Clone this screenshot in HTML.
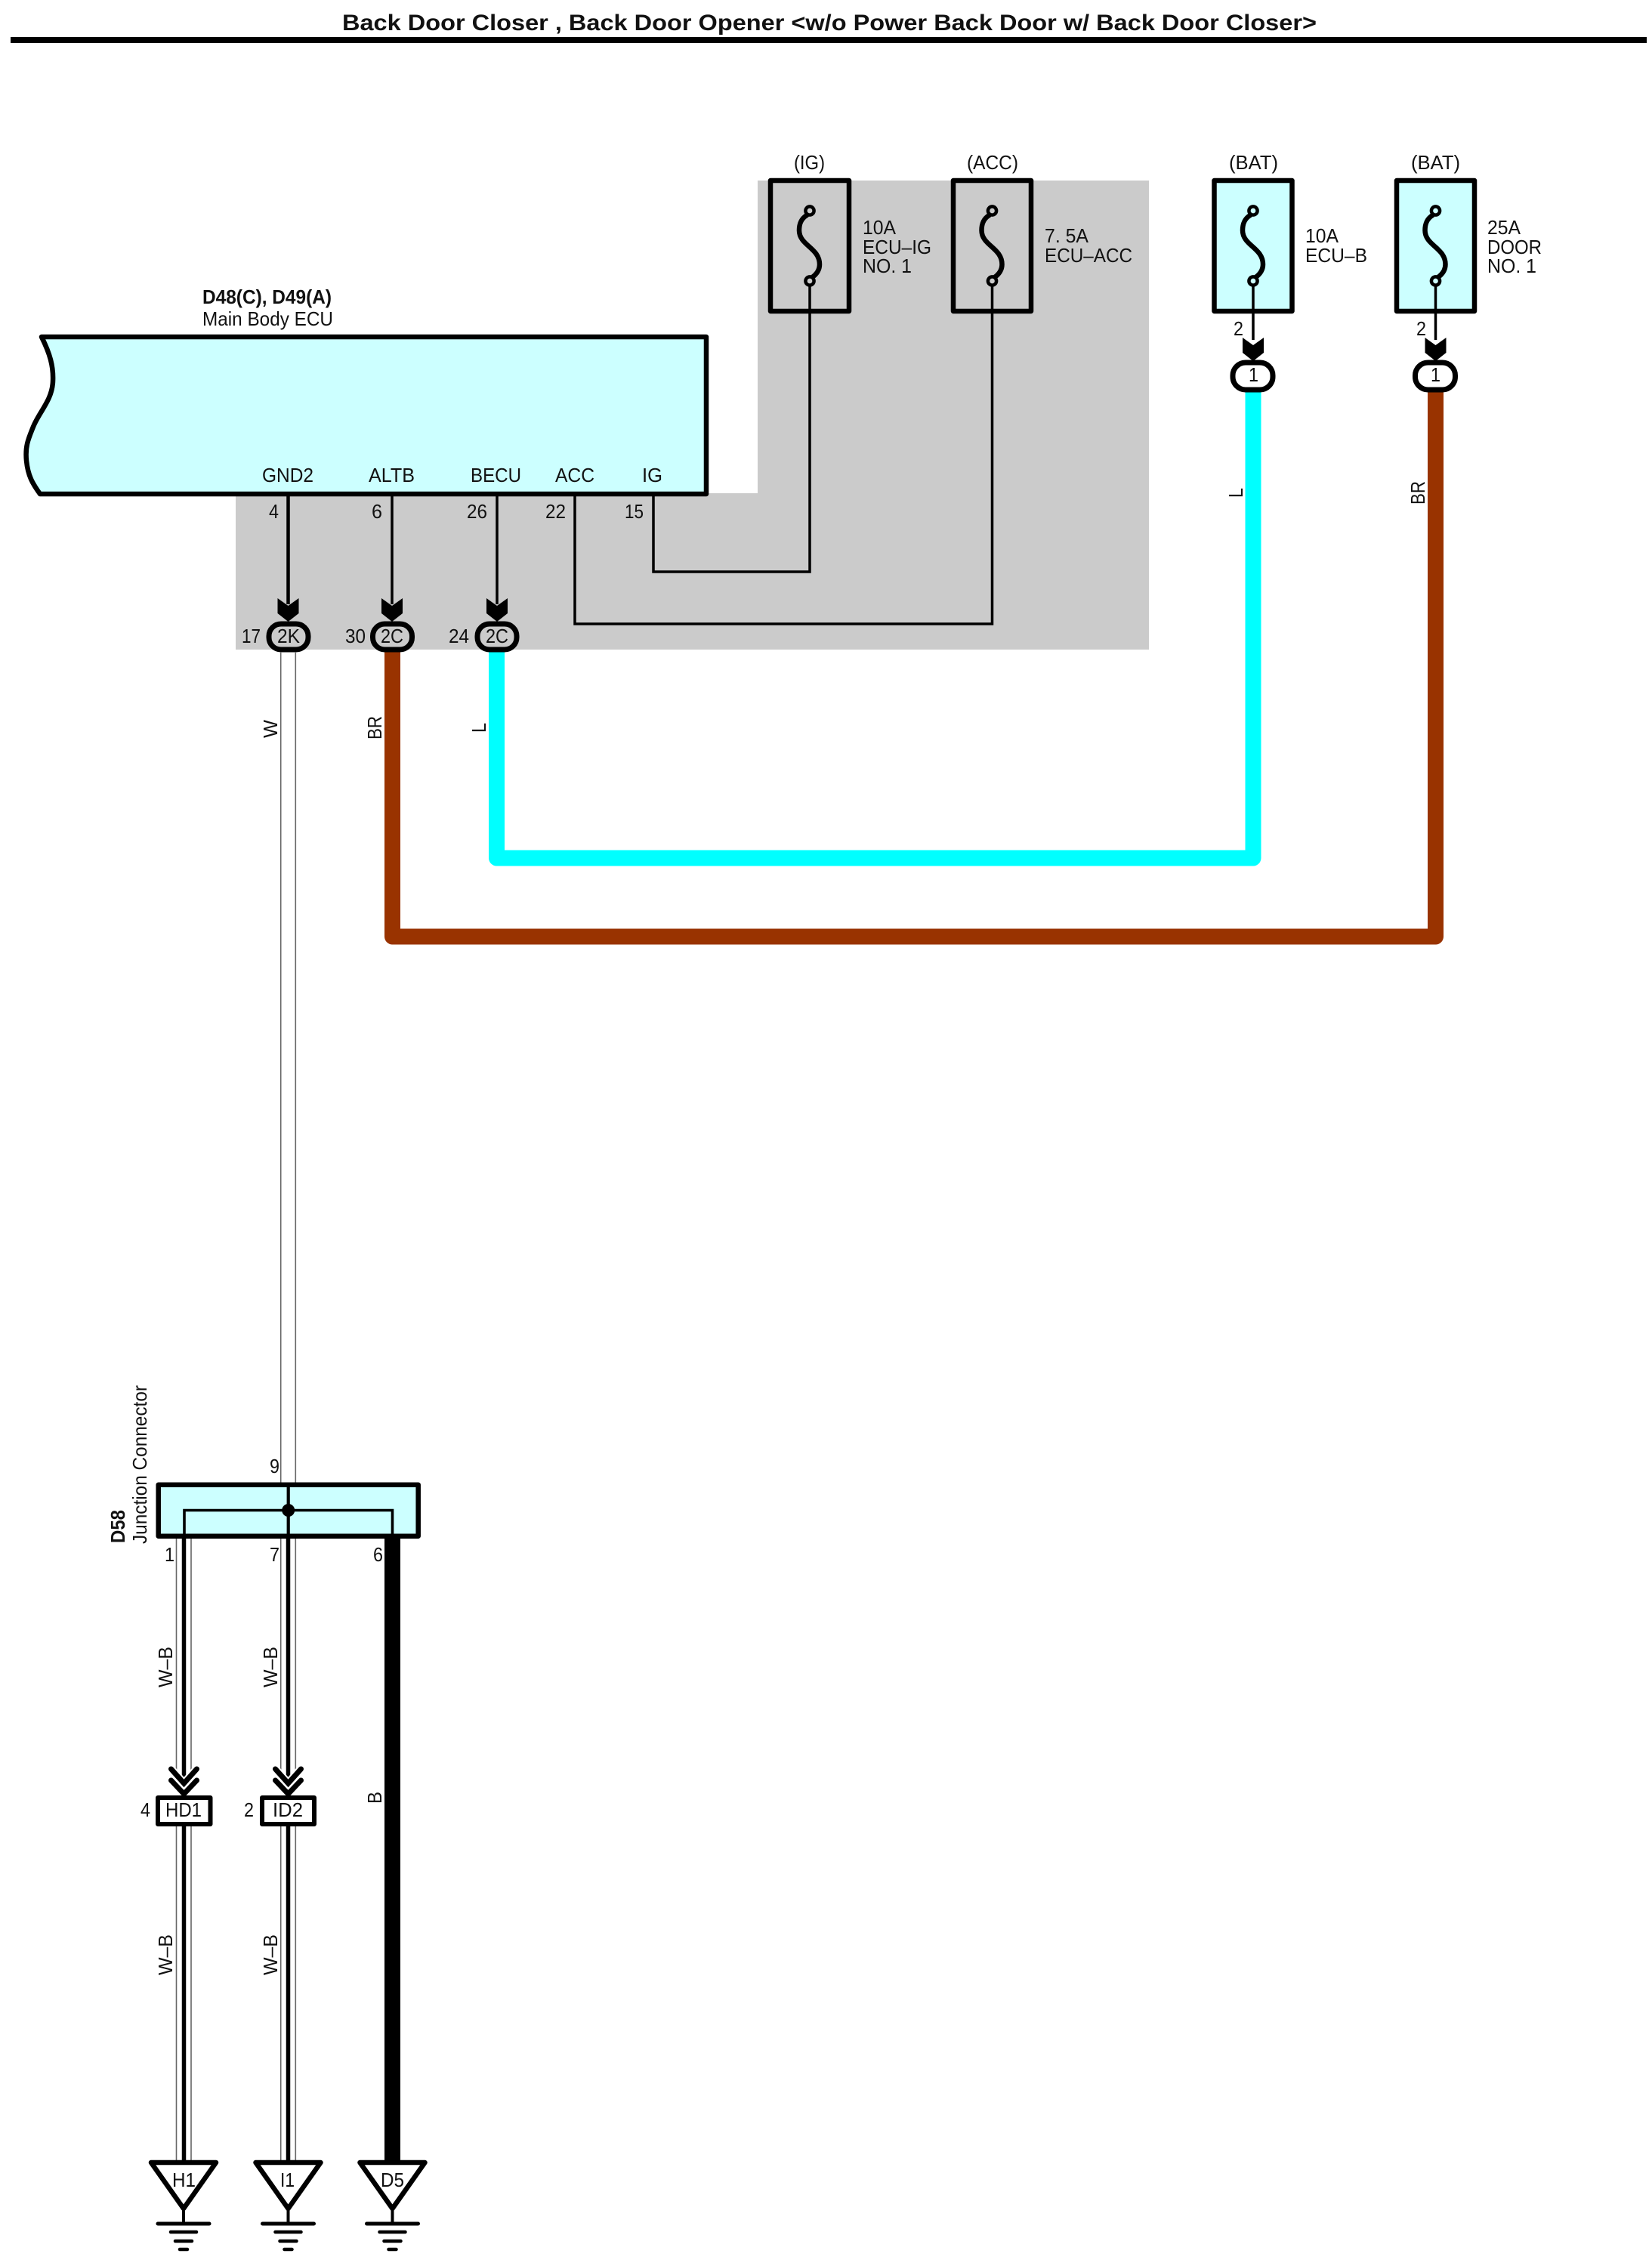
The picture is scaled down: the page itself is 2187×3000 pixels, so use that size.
<!DOCTYPE html>
<html lang="en">
<head>
<meta charset="utf-8">
<title>Back Door Closer, Back Door Opener</title>
<style>
html,body{margin:0;padding:0;background:#fff}
svg{display:block}
text{font-family:"Liberation Sans",Arial,sans-serif;font-size:26px;fill:#111}
.b{font-weight:bold}
</style>
</head>
<body>
<svg xmlns="http://www.w3.org/2000/svg" width="2187" height="3000" viewBox="0 0 2187 3000">
<defs>
<g id="fz" stroke="#000">
<path d="M1068 285C1060 290 1058 297 1058 305C1058 325 1085 328 1085 350C1085 358 1080 364 1074 368" fill="none" stroke-width="6.5" stroke-linecap="round"/>
<circle cx="1072" cy="279" r="5.6" stroke-width="4.5"/>
<circle cx="1072" cy="372" r="5.6" stroke-width="4.5"/>
</g>
<path id="ah" d="M-14-31L0-21L14-31V-11L0 0L-14-11Z" fill="#000"/>
<g id="gnd" fill="none" stroke="#000" stroke-linecap="round">
<path d="M-43 2863H43L0 2924Z" stroke-width="6.5" stroke-linejoin="round"/>
<path d="M0 2924V2944" stroke-width="4"/>
<path d="M-34 2944H34" stroke-width="5"/>
<path d="M-17 2955H17M-11 2967H11M-5 2978H5" stroke-width="4.5"/>
</g>
<g id="chev" fill="none" stroke-linecap="round" stroke-linejoin="miter">
<path d="M-17 2342L0 2361L17 2342" stroke="#fff" stroke-width="11"/>
<path d="M-17 2357L0 2375L17 2357" stroke="#fff" stroke-width="11"/>
<path d="M-17 2342L0 2361L17 2342" stroke="#000" stroke-width="7"/>
<path d="M-17 2357L0 2375L17 2357" stroke="#000" stroke-width="7"/>
</g>
</defs>

<rect width="2187" height="3000" fill="#fff"/>

<!-- title -->
<text class="b" x="453" y="40" style="font-size:30px" textLength="1290" lengthAdjust="spacingAndGlyphs">Back Door Closer , Back Door Opener &lt;w/o Power Back Door w/ Back Door Closer&gt;</text>
<rect x="14" y="49" width="2166" height="8" fill="#000"/>

<!-- grey zone -->
<path d="M1003 239H1521V860H312V653H1003Z" fill="#cbcbcb"/>

<!-- thick wires -->
<path d="M657.5 860V1136H1659V516" fill="none" stroke="#00ffff" stroke-width="21" stroke-linejoin="round"/>
<path d="M519.5 860V1240H1900.5V516" fill="none" stroke="#993300" stroke-width="21" stroke-linejoin="round"/>

<!-- thin wires in grey zone -->
<g fill="none" stroke="#000" stroke-width="3.5">
<path d="M865 654V757H1072V372"/>
<path d="M761 654V826H1313.5V372"/>
<path d="M519 654V800M658 654V800"/>
<path d="M381.5 654V800" stroke-width="4.5"/>
</g>

<!-- ECU -->
<path d="M55 446H935V654H53C43 640 37 630 35 610C33 590 38 580 44 565C52 545 69 530 70 505C71 485 66 468 55 446Z" fill="#ccffff" stroke="#000" stroke-width="6.5" stroke-linejoin="round"/>
<text class="b" x="268" y="402" textLength="171" lengthAdjust="spacingAndGlyphs">D48(C), D49(A)</text>
<text x="268" y="431" textLength="173" lengthAdjust="spacingAndGlyphs">Main Body ECU</text>
<text x="347" y="638" textLength="68" lengthAdjust="spacingAndGlyphs">GND2</text>
<text x="488" y="638" textLength="61" lengthAdjust="spacingAndGlyphs">ALTB</text>
<text x="623" y="638" textLength="67" lengthAdjust="spacingAndGlyphs">BECU</text>
<text x="735" y="638" textLength="52" lengthAdjust="spacingAndGlyphs">ACC</text>
<text x="850" y="638" textLength="27" lengthAdjust="spacingAndGlyphs">IG</text>

<!-- pin numbers under ECU -->
<text x="356" y="686" textLength="13" lengthAdjust="spacingAndGlyphs">4</text>
<text x="492" y="686" textLength="14" lengthAdjust="spacingAndGlyphs">6</text>
<text x="618" y="686" textLength="27" lengthAdjust="spacingAndGlyphs">26</text>
<text x="722" y="686" textLength="27" lengthAdjust="spacingAndGlyphs">22</text>
<text x="827" y="686" textLength="25" lengthAdjust="spacingAndGlyphs">15</text>

<!-- arrowheads + connectors -->
<use href="#ah" x="381.5" y="823"/>
<use href="#ah" x="519" y="823"/>
<use href="#ah" x="658" y="823"/>
<use href="#ah" x="1659" y="478"/>
<use href="#ah" x="1900.5" y="478"/>

<g fill="#cbcbcb" stroke="#000" stroke-width="7">
<rect x="356" y="826" width="52" height="34" rx="16"/>
<rect x="493.5" y="826" width="52" height="34" rx="16"/>
<rect x="632" y="826" width="52" height="34" rx="16"/>
</g>
<g fill="#fff" stroke="#000" stroke-width="7">
<rect x="1632" y="480" width="53" height="36" rx="17"/>
<rect x="1873.5" y="480" width="53" height="36" rx="17"/>
</g>
<text x="367" y="851" textLength="30" lengthAdjust="spacingAndGlyphs">2K</text>
<text x="504" y="851" textLength="30" lengthAdjust="spacingAndGlyphs">2C</text>
<text x="643" y="851" textLength="30" lengthAdjust="spacingAndGlyphs">2C</text>
<text x="320" y="851" textLength="25" lengthAdjust="spacingAndGlyphs">17</text>
<text x="457" y="851" textLength="27" lengthAdjust="spacingAndGlyphs">30</text>
<text x="594" y="851" textLength="27" lengthAdjust="spacingAndGlyphs">24</text>
<text x="1653" y="505" textLength="13" lengthAdjust="spacingAndGlyphs">1</text>
<text x="1894" y="505" textLength="13" lengthAdjust="spacingAndGlyphs">1</text>

<!-- fuses -->
<g stroke="#000" stroke-width="6.5" stroke-linejoin="round">
<rect x="1020" y="239" width="104" height="173" fill="#cbcbcb"/>
<rect x="1262" y="239" width="103" height="173" fill="#cbcbcb"/>
<rect x="1607.5" y="239" width="103" height="173" fill="#ccffff"/>
<rect x="1849" y="239" width="103" height="173" fill="#ccffff"/>
</g>
<path d="M1072 372V412M1313.5 372V412" stroke="#000" stroke-width="3.5"/>
<path d="M1659 372V450M1900.5 372V450" stroke="#000" stroke-width="3.5"/>
<use href="#fz" fill="#cbcbcb"/>
<use href="#fz" x="241.5" fill="#cbcbcb"/>
<use href="#fz" x="587" fill="#ccffff"/>
<use href="#fz" x="828.5" fill="#ccffff"/>
<text x="1051" y="224" textLength="41" lengthAdjust="spacingAndGlyphs">(IG)</text>
<text x="1280" y="224" textLength="68" lengthAdjust="spacingAndGlyphs">(ACC)</text>
<text x="1627" y="224" textLength="65" lengthAdjust="spacingAndGlyphs">(BAT)</text>
<text x="1868" y="224" textLength="65" lengthAdjust="spacingAndGlyphs">(BAT)</text>

<text x="1142" y="310" textLength="44" lengthAdjust="spacingAndGlyphs">10A</text>
<text x="1142" y="336" textLength="91" lengthAdjust="spacingAndGlyphs">ECU–IG</text>
<text x="1142" y="361" textLength="65" lengthAdjust="spacingAndGlyphs">NO. 1</text>
<text x="1383" y="321" textLength="58" lengthAdjust="spacingAndGlyphs">7. 5A</text>
<text x="1383" y="347" textLength="116" lengthAdjust="spacingAndGlyphs">ECU–ACC</text>
<text x="1728" y="321" textLength="44" lengthAdjust="spacingAndGlyphs">10A</text>
<text x="1728" y="347" textLength="82" lengthAdjust="spacingAndGlyphs">ECU–B</text>
<text x="1969" y="310" textLength="44" lengthAdjust="spacingAndGlyphs">25A</text>
<text x="1969" y="336" textLength="72" lengthAdjust="spacingAndGlyphs">DOOR</text>
<text x="1969" y="361" textLength="65" lengthAdjust="spacingAndGlyphs">NO. 1</text>
<text x="1633" y="444" textLength="13" lengthAdjust="spacingAndGlyphs">2</text>
<text x="1875" y="444" textLength="13" lengthAdjust="spacingAndGlyphs">2</text>

<!-- vertical wire labels -->
<text transform="translate(367 977) rotate(-90)" textLength="24" lengthAdjust="spacingAndGlyphs">W</text>
<text transform="translate(505 979) rotate(-90)" textLength="31" lengthAdjust="spacingAndGlyphs">BR</text>
<text transform="translate(643 970) rotate(-90)" textLength="13" lengthAdjust="spacingAndGlyphs">L</text>
<text transform="translate(1645 659) rotate(-90)" textLength="13" lengthAdjust="spacingAndGlyphs">L</text>
<text transform="translate(1886 668) rotate(-90)" textLength="31" lengthAdjust="spacingAndGlyphs">BR</text>

<!-- white wire ECU → D58 -->
<path d="M371.7 863V1963M391.3 863V1963" stroke="#666" stroke-width="1.6"/>

<!-- wires below D58 -->
<path d="M233.5 2036V2345M253 2036V2345M233.5 2416V2860M253 2416V2860M371.7 2036V2345M391.3 2036V2345M371.7 2416V2860M391.3 2416V2860" stroke="#666" stroke-width="1.6"/>
<path d="M243.5 2036V2362M243.5 2416V2862M381.5 2036V2362M381.5 2416V2862" stroke="#000" stroke-width="5.5"/>
<rect x="509" y="2034" width="21" height="830" fill="#000"/>

<!-- D58 -->
<rect x="209.7" y="1965.7" width="344" height="68" fill="#ccffff" stroke="#000" stroke-width="6.5" stroke-linejoin="round"/>
<path d="M244 2034V1999.5H519.5V2034" fill="none" stroke="#000" stroke-width="3.6"/>
<path d="M381.7 1966V2036" stroke="#000" stroke-width="4.2"/>
<circle cx="381.7" cy="1999.5" r="8.5" fill="#000"/>
<text class="b" transform="translate(165 2043) rotate(-90)" textLength="44" lengthAdjust="spacingAndGlyphs">D58</text>
<text transform="translate(194 2044) rotate(-90)" textLength="210" lengthAdjust="spacingAndGlyphs">Junction Connector</text>
<text x="357" y="1950" textLength="13" lengthAdjust="spacingAndGlyphs">9</text>
<text x="218" y="2067" textLength="13" lengthAdjust="spacingAndGlyphs">1</text>
<text x="357" y="2067" textLength="13" lengthAdjust="spacingAndGlyphs">7</text>
<text x="494" y="2067" textLength="13" lengthAdjust="spacingAndGlyphs">6</text>

<text transform="translate(228 2234) rotate(-90)" textLength="54" lengthAdjust="spacingAndGlyphs">W–B</text>
<text transform="translate(367 2234) rotate(-90)" textLength="54" lengthAdjust="spacingAndGlyphs">W–B</text>
<text transform="translate(228 2615) rotate(-90)" textLength="54" lengthAdjust="spacingAndGlyphs">W–B</text>
<text transform="translate(367 2615) rotate(-90)" textLength="54" lengthAdjust="spacingAndGlyphs">W–B</text>
<text transform="translate(505 2388) rotate(-90)" textLength="16" lengthAdjust="spacingAndGlyphs">B</text>

<!-- chevrons -->
<use href="#chev" x="243.5"/>
<use href="#chev" x="381.5"/>

<!-- HD1 / ID2 -->
<g fill="#fff" stroke="#000" stroke-width="6" stroke-linejoin="round">
<rect x="209" y="2380" width="69.5" height="35"/>
<rect x="347" y="2380" width="69" height="35"/>
</g>
<text x="219" y="2405" textLength="48" lengthAdjust="spacingAndGlyphs">HD1</text>
<text x="361" y="2405" textLength="40" lengthAdjust="spacingAndGlyphs">ID2</text>
<text x="186" y="2405" textLength="13" lengthAdjust="spacingAndGlyphs">4</text>
<text x="323" y="2405" textLength="13" lengthAdjust="spacingAndGlyphs">2</text>

<!-- grounds -->
<use href="#gnd" x="243"/>
<use href="#gnd" x="381.5"/>
<use href="#gnd" x="519.5"/>
<text x="228" y="2895" textLength="31" lengthAdjust="spacingAndGlyphs">H1</text>
<text x="371" y="2895" textLength="19" lengthAdjust="spacingAndGlyphs">I1</text>
<text x="504" y="2895" textLength="31" lengthAdjust="spacingAndGlyphs">D5</text>
</svg>
</body>
</html>
